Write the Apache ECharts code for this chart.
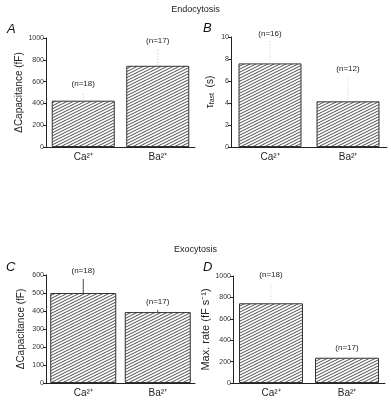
<!DOCTYPE html>
<html>
<head>
    <meta charset="utf-8">
    <script src="https://cdn.jsdelivr.net/npm/echarts@6/dist/echarts.min.js"></script>
    <style>
        body { margin: 0; background: #fff; }
    </style>
</head>
<body>
    <div id="main" style="width: 391px;height:402px;"></div>
    <script>
        // 数据
        var cats = ['Ca²⁺', 'Ba²⁺'];

        var endoCap = [425, 745];       // A
        var endoCapErr = [80, 160];
        var endoCapN = [18, 17];

        var tauFast = [7.6, 4.15];      // B
        var tauFastErr = [2.0, 2.2];
        var tauFastN = [16, 12];

        var exoCap = [500, 394];        // C
        var exoCapErr = [78, 12];
        var exoCapN = [18, 17];

        var maxRate = [745, 236];       // D
        var maxRateErr = [190, 16];
        var maxRateN = [18, 17];

        var yMax = [1000, 10, 600, 1000];
        var yStep = [200, 2, 100, 200];

        var font = 'Liberation Sans, Arial, sans-serif';

        // 斜线填充
        function hatch() {
            var c = document.createElement('canvas');
            c.width = 6; c.height = 3;
            var ctx = c.getContext('2d');
            ctx.fillStyle = '#fff';
            ctx.fillRect(0, 0, 6, 3);
            ctx.strokeStyle = '#3a3a3a';
            ctx.lineWidth = 0.9;
            ctx.beginPath();
            for (var m = -1; m <= 1; m++) {
                ctx.moveTo(0, 3 + 3 * m);
                ctx.lineTo(6, 3 * m);
            }
            ctx.stroke();
            return c;
        }
        var pattern = { image: hatch(), repeat: 'repeat' };

        var myChart = echarts.init(document.getElementById('main'));

        var grids = [
            { left: 46, top: 38, width: 149, height: 109 },
            { left: 231, top: 37, width: 156, height: 110 },
            { left: 46, top: 275, width: 149, height: 108 },
            { left: 233, top: 276, width: 152, height: 107 }
        ];
        var yNames = [
            'ΔCapacitance (fF)',
            '{t|τ}{s|fast}{t|  (s)}',
            'ΔCapacitance (fF)',
            'Max. rate (fF s⁻¹)'
        ];
        var nameGaps = [20, 15, 20, 15];
        var nameSizes = [10, 10, 10, 11];
        var barWidths = [63, 63, 66, 64];

        var panels = [
            [endoCap, endoCapErr, endoCapN],
            [tauFast, tauFastErr, tauFastN],
            [exoCap, exoCapErr, exoCapN],
            [maxRate, maxRateErr, maxRateN]
        ];
        var errStyle = [
            { stroke: '#bbb', lineDash: [1, 2] },
            { stroke: '#ccc', lineDash: [1, 2] },
            { stroke: '#444', lineDash: null },
            { stroke: '#ccc', lineDash: [1, 2] }
        ];

        var xAxis = [], yAxis = [], series = [];
        for (var i = 0; i < 4; i++) {
            xAxis.push({
                type: 'category',
                gridIndex: i,
                data: cats,
                axisLine: { lineStyle: { color: '#222', width: 1 } },
                axisTick: { length: 3, lineStyle: { color: '#222' } },
                axisLabel: { fontFamily: font, fontSize: 10, color: '#222', margin: 5 }
            });
            yAxis.push({
                type: 'value',
                gridIndex: i,
                min: 0,
                max: yMax[i],
                interval: yStep[i],
                name: yNames[i],
                nameLocation: 'middle',
                nameRotate: 90,
                nameGap: nameGaps[i],
                nameTextStyle: {
                    fontFamily: font, fontSize: nameSizes[i], color: '#222',
                    rich: {
                        t: { fontFamily: font, fontSize: 10, color: '#222' },
                        s: { fontFamily: font, fontSize: 7, color: '#222', padding: [5, 0, 0, 0] }
                    }
                },
                splitLine: { show: false },
                axisLine: { show: true, lineStyle: { color: '#222', width: 1 } },
                axisTick: { show: true, length: 3, lineStyle: { color: '#222' } },
                axisLabel: {
                    fontFamily: font, fontSize: 7, color: '#333', margin: 2,
                    formatter: function (v) { return String(v); }
                }
            });
            var p = panels[i];
            series.push({
                type: 'bar',
                xAxisIndex: i,
                yAxisIndex: i,
                barWidth: barWidths[i],
                data: p[0],
                itemStyle: { color: pattern, borderColor: '#333', borderWidth: 1 },
                silent: true
            });
            var ed = p[0].map(function (v, k) { return [k, v, v + p[1][k], p[2][k]]; });
            series.push({
                type: 'custom',
                xAxisIndex: i,
                yAxisIndex: i,
                data: ed,
                clip: false,
                z: 5,
                renderItem: (function (st) {
                    return function (params, api) {
                        var b = api.coord([api.value(0), api.value(1)]);
                        var t = api.coord([api.value(0), api.value(2)]);
                        return {
                            type: 'group',
                            children: [{
                                type: 'line',
                                shape: { x1: b[0], y1: b[1], x2: t[0], y2: t[1] },
                                style: { stroke: st.stroke, lineWidth: 1, lineDash: st.lineDash }
                            }, {
                                type: 'text',
                                style: {
                                    text: '(n=' + api.value(3) + ')',
                                    x: t[0], y: t[1] - 8,
                                    align: 'center', verticalAlign: 'middle',
                                    fontFamily: font, fontSize: 8, fill: '#222'
                                }
                            }]
                        };
                    };
                })(errStyle[i])
            });
        }

        var option = {
            animation: false,
            backgroundColor: '#fff',
            grid: grids,
            xAxis: xAxis,
            yAxis: yAxis,
            series: series,
            graphic: [
                { type: 'text', left: 'center', top: 5, style: { text: 'Endocytosis', fontFamily: font, fontSize: 9, fill: '#222' } },
                { type: 'text', left: 'center', top: 245, style: { text: 'Exocytosis', fontFamily: font, fontSize: 9, fill: '#222' } },
                { type: 'text', left: 7, top: 23, style: { text: 'A', fontFamily: font, fontSize: 13, fontStyle: 'italic', fill: '#111' } },
                { type: 'text', left: 203, top: 22, style: { text: 'B', fontFamily: font, fontSize: 13, fontStyle: 'italic', fill: '#111' } },
                { type: 'text', left: 6, top: 261, style: { text: 'C', fontFamily: font, fontSize: 13, fontStyle: 'italic', fill: '#111' } },
                { type: 'text', left: 203, top: 261, style: { text: 'D', fontFamily: font, fontSize: 13, fontStyle: 'italic', fill: '#111' } }
            ]
        };
        myChart.setOption(option);
    </script>
</body>
</html>
